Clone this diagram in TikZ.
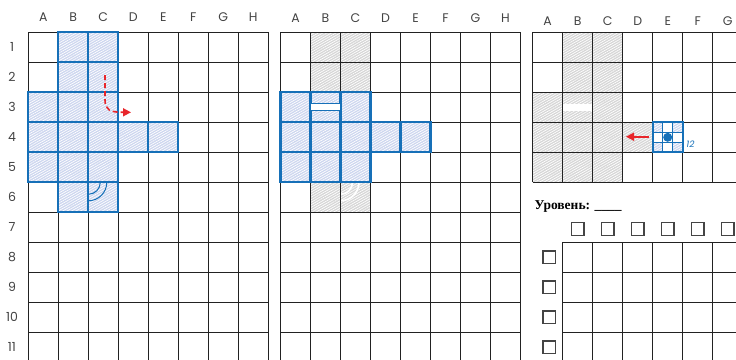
\documentclass[tikz,border=0pt]{standalone}
\usepackage{fontspec}
\usetikzlibrary{patterns.meta,arrows.meta}
\newfontfamily\labfont{Poppins}
\newfontfamily\rufont{Liberation Serif}
\definecolor{gridc}{HTML}{222222}
\definecolor{bluec}{HTML}{1670B8}
\definecolor{bluefill}{HTML}{CDD6EF}
\definecolor{grayfill}{HTML}{D6D6D6}
\definecolor{redc}{HTML}{E8262B}
\definecolor{boxc}{HTML}{444444}
\tikzset{
  hatchw/.style={postaction={pattern={Lines[angle=30,distance=2.2pt,line width=0.7pt]},pattern color=white}},
  bcell/.style={fill=bluefill,hatchw},
  gcell/.style={fill=grayfill,hatchw},
  bline/.style={draw=bluec,line width=2.3pt},
  gline/.style={draw=gridc,line width=1.2pt},
  collab/.style={font=\labfont\fontsize{12.5}{14}\selectfont,text=gridc!85,inner sep=0pt},
  chk/.style={draw=boxc,line width=1.2pt,minimum size=12.5pt,inner sep=0pt},
  redarr/.style={draw=redc,line width=1.6pt,-{Triangle[length=8pt,width=8pt]}},
}
\begin{document}
\begin{tikzpicture}[x=1pt,y=-1pt]
\useasboundingbox (0,0) rectangle (736,359);
\clip (0,0) rectangle (736,359);
% ---------- left grid ----------
\foreach \c/\r in {1/0,2/0,1/1,2/1,0/2,1/2,2/2,0/3,1/3,2/3,3/3,4/3,0/4,1/4,2/4,1/5,2/5}
  \path[bcell] (28.3+30*\c,32.3+30*\r) rectangle ++(30,30);
\foreach \i in {0,...,8} \draw[gline] (28.3+30*\i,32.3) -- (28.3+30*\i,362);
\foreach \j in {0,...,11} \draw[gline] (28.3,32.3+30*\j) -- (268.3,32.3+30*\j);
\foreach \c/\r in {1/0,2/0,1/1,2/1,0/2,1/2,2/2,0/3,1/3,2/3,3/3,4/3,0/4,1/4,2/4,1/5,2/5}
  \draw[bline] (28.3+30*\c,32.3+30*\r) rectangle ++(30,30);
\draw[bluec,line width=1pt] (100.3,182.3) arc[start angle=0,end angle=90,radius=12];
\draw[bluec,line width=1pt] (106.8,182.3) arc[start angle=0,end angle=90,radius=18.5];
\coordinate (ra) at (105,75);
\coordinate (rb) at (131,112.3);
\draw[redarr,dash pattern=on 5pt off 3pt] (ra) -- (105,100) .. controls (105,110) and (110,112.3) .. (rb);
\foreach \l [count=\k from 0] in {A,B,C,D,E,F,G,H}
  \node[collab] (L\l) at (43.3+30*\k,17) {\l};
\foreach \n in {1,...,11}
  \node[collab] (N\n) at (12,17.3+30*\n) {\n};
% ---------- middle grid ----------
\foreach \c/\r in {1/0,2/0,1/1,2/1,1/5,2/5}
  \path[gcell] (280.5+30*\c,32.3+30*\r) rectangle ++(30,30);
\draw[white,line width=1.6pt] (352.5,182.3) arc[start angle=0,end angle=90,radius=12];
\draw[white,line width=1.6pt] (359,182.3) arc[start angle=0,end angle=90,radius=18.5];
\foreach \c/\r in {0/2,1/2,2/2,0/3,1/3,2/3,3/3,4/3,0/4,1/4,2/4}
  \path[bcell] (280.5+30*\c,32.3+30*\r) rectangle ++(30,30);
\foreach \i in {0,...,8} \draw[gline] (280.5+30*\i,32.3) -- (280.5+30*\i,362);
\foreach \j in {0,...,11} \draw[gline] (280.5,32.3+30*\j) -- (520.5,32.3+30*\j);
\foreach \c/\r in {0/2,1/2,2/2,0/3,1/3,2/3,3/3,4/3,0/4,1/4,2/4}
  \draw[bline] (280.5+30*\c,32.3+30*\r) rectangle ++(30,30);
\draw[bluec,fill=white,line width=1.1pt] (310.5,103.5) rectangle (340.5,110.8);
\foreach \l [count=\k from 0] in {A,B,C,D,E,F,G,H}
  \node[collab] (M\l) at (295.5+30*\k,18) {\l};
% ---------- right grid ----------
\foreach \c/\r in {1/0,2/0,1/1,2/1,0/2,1/2,2/2,0/3,1/3,2/3,3/3,0/4,1/4,2/4}
  \path[gcell] (532.7+30*\c,32.3+30*\r) rectangle ++(30,30);
\fill[white] (562.7,104) rectangle (592.7,111);
% E4 marker cell
\foreach \a/\b in {0/0,2/0,0/2,2/2}
  \path[bcell] (652.7+10*\a,122.3+10*\b) rectangle ++(10,10);
\foreach \i in {0,...,7} \draw[gline] (532.7+30*\i,32.3) -- (532.7+30*\i,182.3);
\foreach \j in {0,...,5} \draw[gline] (532.7,32.3+30*\j) -- (745,32.3+30*\j);
\foreach \t in {10,20} {
  \draw[bluec,line width=0.9pt] (652.7+\t,122.3) -- (652.7+\t,152.3);
  \draw[bluec,line width=0.9pt] (652.7,122.3+\t) -- (682.7,122.3+\t);
}
\draw[bline] (652.7,122.3) rectangle (682.7,152.3);
\fill[bluec] (667.7,137.3) circle[radius=4.5];
\node[font=\labfont\itshape\fontsize{9}{10}\selectfont,text=bluec,inner sep=0pt] (lvl) at (690.5,144.5) {12};
\coordinate (sa) at (649,136.7);
\coordinate (sb) at (626,136.7);
\draw[redarr] (sa) -- (sb);
\foreach \l [count=\k from 0] in {A,B,C,D,E,F,G}
  \node[collab] (R\l) at (547.7+30*\k,21) {\l};
% ---------- level block ----------
\node[anchor=west,font=\rufont\bfseries\fontsize{13.5}{15}\selectfont,inner sep=0pt] (ur) at (534.5,206.5) {Уровень: \_\_\_\_};
\foreach \k in {0,...,5}
  \node[chk] (T\k) at (577.7+30*\k,229) {};
\foreach \k in {0,...,3}
  \node[chk] (S\k) at (549.2,257.3+30*\k) {};
\foreach \i in {0,...,6} \draw[gline] (562.7+30*\i,242.3) -- (562.7+30*\i,362);
\foreach \j in {0,...,4} \draw[gline] (562.7,242.3+30*\j) -- (745,242.3+30*\j);
\end{tikzpicture}
\end{document}
